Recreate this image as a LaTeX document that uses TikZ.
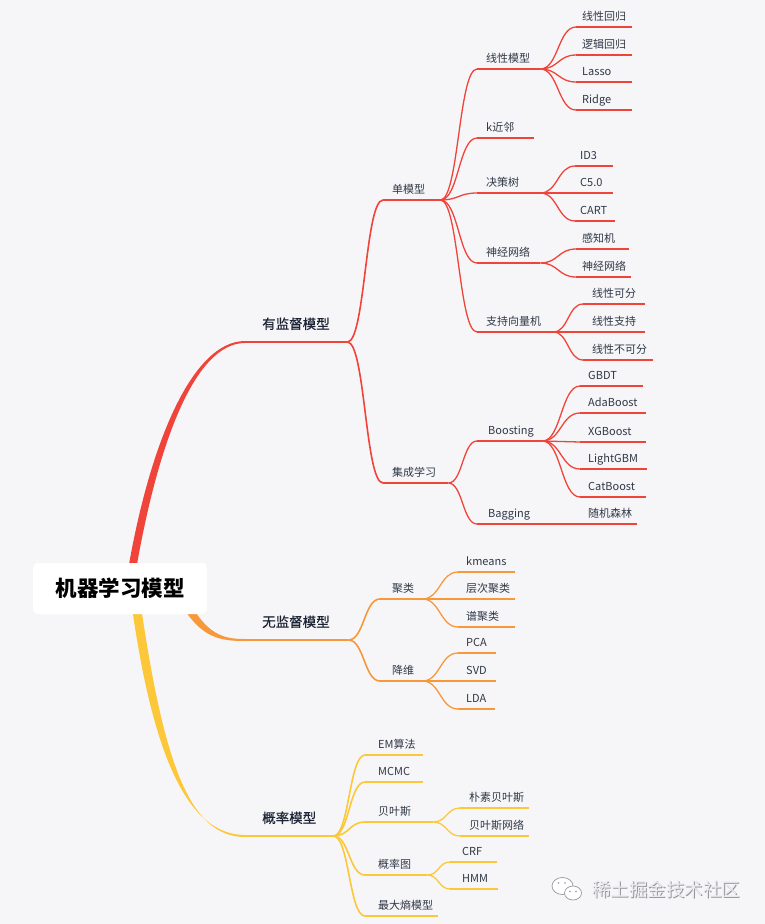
\documentclass[tikz,border=0pt]{standalone}
\usepackage{fontspec}
\setmainfont{Noto Sans CJK SC}
\newfontfamily\medfont[FakeBold=0.5]{Noto Sans CJK SC}
\usetikzlibrary{calc}
\definecolor{bg}{RGB}{246,246,249}
\definecolor{cred}{RGB}{240,68,58}
\definecolor{corange}{RGB}{247,152,58}
\definecolor{cyellow}{RGB}{252,200,58}
\definecolor{txt}{RGB}{48,56,70}
\definecolor{txtd}{RGB}{28,36,52}
\definecolor{wmgray}{RGB}{150,150,155}
\definecolor{wmlight}{RGB}{236,236,240}
\tikzset{
  leaf/.style={anchor=south west, inner xsep=0pt, inner ysep=3.3pt, text height=8.5pt, text depth=3pt,
    font=\fontsize{11}{13}\selectfont, text=txt},
  main/.style={anchor=south west, inner xsep=0pt, inner ysep=9.4pt, text height=11pt, text depth=3.5pt,
    font=\medfont\fontsize{13.5}{16}\selectfont, text=txtd},
  ln/.style={line width=1.3pt},
  lnb/.style={line width=1.6pt},
  lnm/.style={line width=2pt},
  rootbox/.style={fill=white, rounded corners=5pt, minimum width=174pt, minimum height=51pt,
    inner sep=0pt, font=\bfseries\fontsize{21.5}{24}\selectfont, text=black}
}
\newcommand\topic[7][leaf]{\node[#1] (#2) at (#3,#5) {\hbox to \dimexpr #4pt-#3pt\relax{\hspace*{\dimexpr #6pt-#3pt\relax}#7\hss}};}
\newcommand\lnk[3]{\draw[#1] let \p1=(#2.south east), \p2=(#3.south west) in (\p1) .. controls ({(\x1+\x2)/2},\y1) and ({(\x1+\x2)/2},\y2) .. (\p2);}
\newcommand\ul[2]{\draw[#1] (#2.south west) -- (#2.south east);}
\begin{document}
\begin{tikzpicture}[x=1pt,y=-1pt]
\fill[bg] (0,0) rectangle (765,924);
\useasboundingbox (0,0) rectangle (765,924);

% ---------- topics ----------
\topic[main]{sup}{245}{347}{342}{262}{有监督模型}
\topic{single}{383}{440}{200}{392}{单模型}
\topic{ens}{383}{448}{483}{392}{集成学习}
\topic{lin}{477}{540}{69}{486}{线性模型}
\topic{knn}{477}{534}{138}{486}{k近邻}
\topic{tree}{477}{540}{193}{486}{决策树}
\topic{nn}{477}{540}{263}{486}{神经网络}
\topic{svm}{477}{553}{332}{486}{支持向量机}
\topic{lr}{576}{632}{27}{582}{线性回归}
\topic{logr}{576}{632}{55}{582}{逻辑回归}
\topic{lasso}{576}{632}{82}{582}{Lasso}
\topic{ridge}{576}{632}{110}{582}{Ridge}
\topic{id3}{575}{613}{166}{580}{ID3}
\topic{c50}{575}{613}{193}{580}{C5.0}
\topic{cart}{575}{615}{221}{580}{CART}
\topic{perc}{576}{629}{249}{582}{感知机}
\topic{nnb}{576}{631}{277}{582}{神经网络}
\topic{sv1}{583}{645}{304}{592}{线性可分}
\topic{sv2}{583}{645}{332}{592}{线性支持}
\topic{sv3}{583}{653}{360}{592}{线性不可分}
\topic{boost}{477}{542}{441}{488}{Boosting}
\topic{bag}{477}{542}{524}{488}{Bagging}
\topic{gbdt}{580}{643}{386}{588}{GBDT}
\topic{ada}{580}{646}{413}{588}{AdaBoost}
\topic{xgb}{580}{646}{442}{588}{XGBoost}
\topic{lgbm}{580}{647}{469}{588}{LightGBM}
\topic{cat}{580}{646}{497}{588}{CatBoost}
\topic{rf}{575}{637}{524}{588}{随机森林}

\topic[main]{unsup}{245}{348}{640}{262}{无监督模型}
\topic{clu}{380}{422}{599}{392}{聚类}
\topic{dim}{380}{422}{681}{392}{降维}
\topic{km}{458}{515}{572}{466}{kmeans}
\topic{hc}{458}{515}{599}{466}{层次聚类}
\topic{sc}{458}{515}{627}{466}{谱聚类}
\topic{pca}{458}{496}{653}{466}{PCA}
\topic{svd}{458}{496}{681}{466}{SVD}
\topic{lda}{458}{495}{709}{466}{LDA}

\topic[main]{prob}{245}{333}{836}{262}{概率模型}
\topic{em}{365}{423}{755}{378}{EM算法}
\topic{mcmc}{365}{423}{782}{378}{MCMC}
\topic{bayes}{365}{433}{822}{378}{贝叶斯}
\topic{pg}{365}{427}{875}{378}{概率图}
\topic{maxent}{365}{438}{916}{378}{最大熵模型}
\topic{nb}{460}{529}{808}{469}{朴素贝叶斯}
\topic{bn}{460}{529}{836}{469}{贝叶斯网络}
\topic{crf}{450}{497}{862}{462}{CRF}
\topic{hmm}{450}{498}{889}{462}{HMM}

% ---------- underlines ----------
\ul{cred,lnm}{sup}
\ul{corange,lnm}{unsup}
\ul{cyellow,lnm}{prob}
\foreach \n in {single,ens} {\ul{cred,lnb}{\n}}
\foreach \n in {clu,dim} {\ul{corange,lnb}{\n}}
\foreach \n in {em,mcmc,bayes,pg,maxent} {\ul{cyellow,lnb}{\n}}
\foreach \n in {lin,knn,tree,nn,svm,lr,logr,lasso,ridge,id3,c50,cart,perc,nnb,sv1,sv2,sv3,boost,bag,gbdt,ada,xgb,lgbm,cat,rf} {\ul{cred,ln}{\n}}
\foreach \n in {km,hc,sc,pca,svd,lda} {\ul{corange,ln}{\n}}
\foreach \n in {nb,bn,crf,hmm} {\ul{cyellow,ln}{\n}}

% ---------- connectors ----------
\lnk{cred,lnb}{sup}{single}
\lnk{cred,lnb}{sup}{ens}
\foreach \c in {lin,knn,tree,nn,svm} {\lnk{cred,ln}{single}{\c}}
\foreach \c in {lr,logr,lasso,ridge} {\lnk{cred,ln}{lin}{\c}}
\foreach \c in {id3,c50,cart} {\lnk{cred,ln}{tree}{\c}}
\foreach \c in {perc,nnb} {\lnk{cred,ln}{nn}{\c}}
\foreach \c in {sv1,sv2,sv3} {\lnk{cred,ln}{svm}{\c}}
\foreach \c in {boost,bag} {\lnk{cred,ln}{ens}{\c}}
\foreach \c in {gbdt,ada,xgb,lgbm,cat} {\lnk{cred,ln}{boost}{\c}}
\lnk{cred,ln}{bag}{rf}
\foreach \c in {clu,dim} {\lnk{corange,lnb}{unsup}{\c}}
\foreach \c in {km,hc,sc} {\lnk{corange,ln}{clu}{\c}}
\foreach \c in {pca,svd,lda} {\lnk{corange,ln}{dim}{\c}}
\foreach \c in {em,mcmc,bayes,pg,maxent} {\lnk{cyellow,lnb}{prob}{\c}}
\foreach \c in {nb,bn} {\lnk{cyellow,ln}{bayes}{\c}}
\foreach \c in {crf,hmm} {\lnk{cyellow,ln}{pg}{\c}}

% ---------- trunks from root ----------
\fill[cred] (126,582) .. controls (148,445) and (192,341) .. ($(sup.south west)+(0,-1)$)
  -- ($(sup.south west)+(0,1)$) .. controls (194,343) and (156,447) .. (134,582) -- cycle;
\fill[cyellow] (131,600) .. controls (153,762) and (190,835) .. ($(prob.south west)+(0,-1)$)
  -- ($(prob.south west)+(0,1)$) .. controls (188,837) and (163,758) .. (140,600) -- cycle;
\fill[corange] (181,604) .. controls (201,638) and (220,641) .. ($(unsup.south west)+(0,1)$)
  -- ($(unsup.south west)+(0,-1)$) .. controls (222,639) and (207,634) .. (188,600) -- cycle;

% ---------- root ----------
\node[rootbox] (root) at (120,588.5) {机器学习模型};

% ---------- watermark ----------
\draw[wmgray, fill=white, line width=0.7pt] (562.5,886) ellipse (10.5 and 8.5);
\draw[wmgray, fill=white, line width=0.7pt] (573,893) ellipse (8.5 and 7);
\fill[wmgray] (558.5,883) circle (0.9) (565,883) circle (0.9) (570,891.5) circle (0.9) (576,891.5) circle (0.9);
\node[font=\fontsize{18.5}{20}\selectfont, text=wmgray] (wm) at (667,890) {稀土掘金技术社区};
\node[font=\fontsize{18.5}{20}\selectfont, text=wmlight] (wmtop) at (666.2,889.2) {稀土掘金技术社区};
\end{tikzpicture}
\end{document}
